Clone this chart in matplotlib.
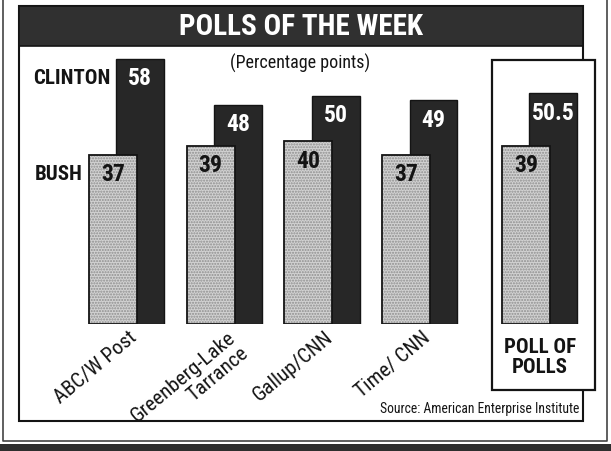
import matplotlib
matplotlib.use("Agg")
import matplotlib.pyplot as plt
from matplotlib import font_manager
from matplotlib.patches import Rectangle
import numpy as np

pollsters = ["ABC/W Post", "Greenberg-Lake\nTarrance", "Gallup/CNN", "Time/ CNN", "POLL OF\nPOLLS"]
clinton = [58, 48, 50, 49, 50.5]
bush = [37, 39, 40, 37, 39]
is_summary = [False, False, False, False, True]

title = "POLLS OF THE WEEK"
subtitle = "(Percentage points)"
source = "Source: American Enterprise Institute"

# newspaper type is condensed, so take a narrow face if there is one
names = {f.name for f in font_manager.fontManager.ttflist}
FONT, k = "DejaVu Sans", 0.8
for want in ["Roboto Condensed", "Liberation Sans Narrow", "Open Sans Condensed"]:
    if want in names:
        FONT, k = want, 1.0
        break
plt.rcParams["font.family"] = [FONT, "DejaVu Sans"]
plt.rcParams["font.stretch"] = "condensed"

DARK = "#272727"
INK = "#141414"

W, H = 611, 452
fig = plt.figure(figsize=(W / 100, H / 100), dpi=100)
fig.patch.set_facecolor("white")

# background layer in pixel units for the frames
bg = fig.add_axes([0, 0, 1, 1])
bg.set_xlim(0, W)
bg.set_ylim(H, 0)
bg.axis("off")

# outer box and the heavy rule at the bottom
bg.plot([3, 3, 607, 607], [0, 442, 442, 0], color="#444", lw=1.2)
bg.add_patch(Rectangle((0, 445), W, 9, color="#2e2e2e", lw=0))
# inner frame and title banner
bg.add_patch(Rectangle((19, 7), 564, 415, facecolor="white", edgecolor=INK, lw=1.5))
bg.add_patch(Rectangle((19, 7), 564, 40, facecolor="#303030", edgecolor=INK, lw=1.2))
# box round the poll of polls
bg.add_patch(Rectangle((492, 61), 103, 330, facecolor="white", edgecolor=INK, lw=1.6, zorder=3))

bg.text(301, 27, title, color="white", fontsize=21 * k, fontweight="bold",
        ha="center", va="center")
bg.text(300, 63, subtitle, color=INK, fontsize=13 * k, ha="center", va="center")
bg.text(579, 409, source, color=INK, fontsize=9.8 * k, ha="right", va="center")

# bar axes: y=0 sits on pixel row 325
ax = fig.add_axes([19 / W, 1 - 325 / H, 564 / W, (60 * 4.57) / H])
ax.set_zorder(5)
ax.patch.set_alpha(0)
ax.set_ylim(0, 60)
ax.set_xlim(-0.962, 4.81)
ax.axis("off")

x = np.arange(len(pollsters)) + np.where(is_summary, 0.227, 0.0)
bw = 0.49
off = 0.28

ax.bar(x + off, clinton, width=bw, color=DARK, edgecolor=INK, lw=1.0, zorder=2)
ax.bar(x, bush, width=bw, color="#d2d2d2", edgecolor="#8e8e8e", hatch="......", lw=0, zorder=3)
ax.bar(x, bush, width=bw, fill=False, edgecolor=INK, lw=1.3, zorder=4)

for xi, c, b in zip(x, clinton, bush):
    ax.annotate(f"{c:g}", (xi + off, c), xytext=(0, -19), textcoords="offset pixels",
                ha="center", va="center", color="white", fontsize=17 * k,
                fontweight="bold", zorder=6)
    ax.annotate(f"{b:g}", (xi, b), xytext=(0, -19), textcoords="offset pixels",
                ha="center", va="center", color=INK, fontsize=17 * k,
                fontweight="bold", zorder=6)

# series names beside the first pair
ax.annotate("CLINTON", (x[0] + off - bw / 2, clinton[0]), xytext=(-6, -19),
            textcoords="offset pixels", ha="right", va="center", color=INK,
            fontsize=15 * k, fontweight="bold")
ax.annotate("BUSH", (x[0] - bw / 2, bush[0]), xytext=(-6, -19),
            textcoords="offset pixels", ha="right", va="center", color=INK,
            fontsize=15 * k, fontweight="bold")

# category names
for xi, name, summ in zip(x, pollsters, is_summary):
    xc = xi + off / 2
    if summ:
        ax.annotate(name, (xc, 0), xytext=(0, -13), textcoords="offset pixels",
                    ha="center", va="top", color=INK, fontsize=15 * k,
                    fontweight="bold", linespacing=1.05)
    else:
        ax.annotate(name, (xc, 0), xytext=(2, -3), textcoords="offset pixels",
                    ha="right", va="top", rotation=40, rotation_mode="anchor",
                    multialignment="right", color=INK, fontsize=15 * k,
                    linespacing=1.1)

fig.savefig("out.png", dpi=100)
